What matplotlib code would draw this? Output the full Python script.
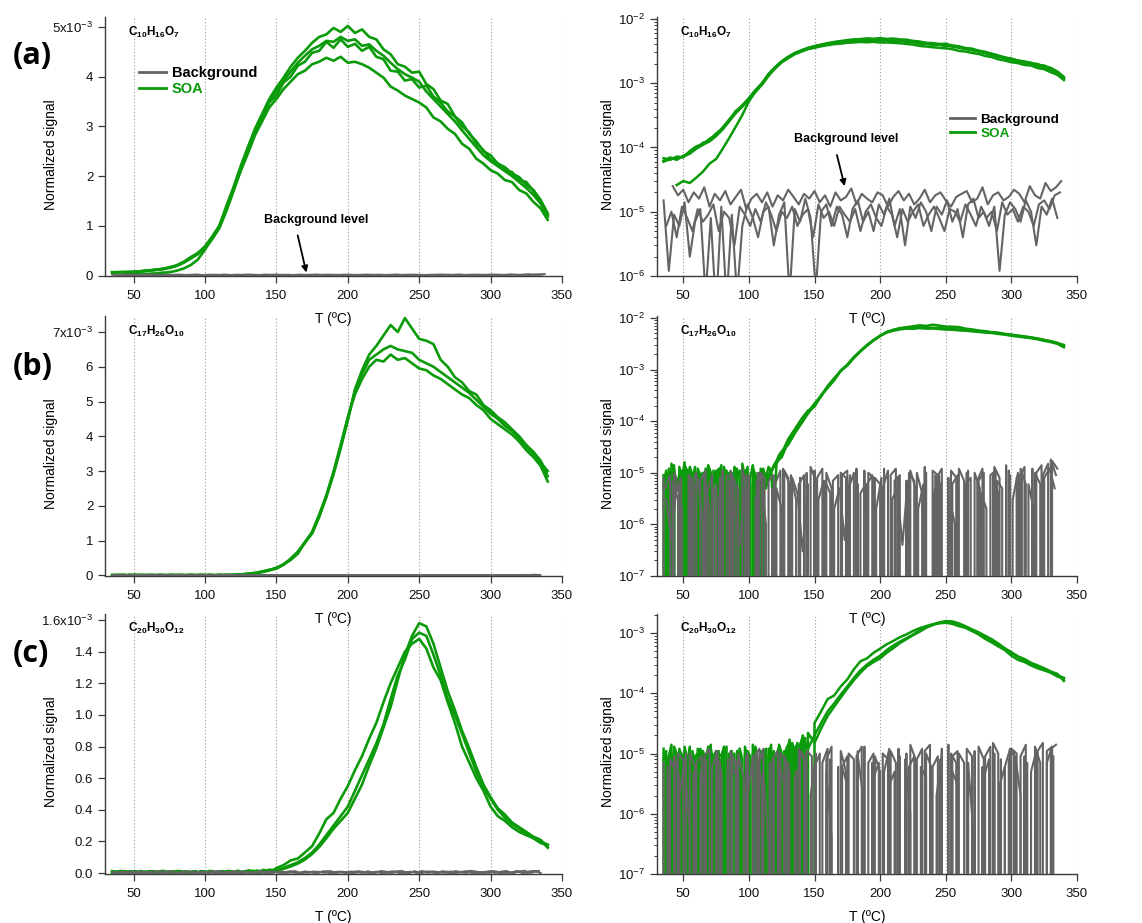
import numpy as np
import matplotlib
matplotlib.use('Agg')
import matplotlib.pyplot as plt
from matplotlib.lines import Line2D
from matplotlib.ticker import FixedLocator, FixedFormatter, LogLocator, NullFormatter

plt.rcParams['font.family'] = ['Liberation Sans', 'DejaVu Sans']
plt.rcParams['mathtext.fontset'] = 'custom'
plt.rcParams['mathtext.rm'] = 'Liberation Sans'
plt.rcParams['mathtext.bf'] = 'Liberation Sans:bold'
plt.rcParams['mathtext.it'] = 'Liberation Sans:italic'

UNIT = 1e-6   # every signal list below is in units of 1e-6
nan = np.nan

# ---------------- row (a): C10H16O7 ----------------
a_start, a_step = 35, 5
soa_a1 = [62, 70, 64, 74, 83, 98, 118, 128, 165, 196,
          272, 352, 455, 575, 770, 1000, 1360, 1740, 2160, 2500,
          2900, 3150, 3480, 3620, 3880, 4000, 4220, 4300, 4480, 4520,
          4700, 4580, 4750, 4600, 4660, 4520, 4600, 4400, 4350, 4120,
          4100, 3920, 3950, 3780, 3820, 3600, 3480, 3300, 3200, 3000,
          2880, 2650, 2520, 2330, 2260, 2120, 2080, 1920, 1880, 1700,
          1480, 1220]
soa_a2 = [68, 64, 72, 70, 88, 104, 112, 136, 158, 205,
          268, 370, 445, 585, 780, 990, 1400, 1780, 2200, 2580,
          2950, 3250, 3550, 3780, 3980, 4200, 4380, 4520, 4680, 4800,
          4850, 4980, 4900, 5020, 4880, 4950, 4800, 4750, 4550, 4450,
          4250, 4200, 4080, 4100, 3850, 3750, 3520, 3450, 3200, 3080,
          2850, 2700, 2500, 2420, 2250, 2180, 2050, 1980, 1820, 1720,
          1520, 1250]
soa_a3 = [60, 66, 68, 72, 80, 96, 110, 124, 150, 190,
          255, 340, 430, 550, 730, 950, 1300, 1700, 2100, 2450,
          2820, 3100, 3380, 3550, 3750, 3900, 4050, 4120, 4250, 4300,
          4380, 4320, 4400, 4280, 4300, 4250, 4180, 4080, 3980, 3800,
          3720, 3620, 3550, 3480, 3380, 3180, 3100, 2950, 2850, 2650,
          2550, 2350, 2250, 2120, 2050, 1920, 1880, 1720, 1650, 1480,
          1350, 1120]
soa_a4 = [nan, nan, 26, 30, 28, 34, 42, 56, 66, 95,
          140, 210, 320, 520, 740, 960, 1320, 1720, 2140, 2550,
          2920, 3220, 3500, 3720, 3920, 4100, 4280, 4420, 4550, 4620,
          4720, 4700, 4800, 4720, 4750, 4620, 4650, 4520, 4420, 4280,
          4150, 4050, 3980, 3900, 3700, 3550, 3400, 3250, 3100, 2920,
          2750, 2580, 2420, 2300, 2200, 2100, 2000, 1880, 1760, 1620,
          1450, 1180]

bg_step = 4
bg_a1_start = 35
bg_a1 = [15, 1.2, 9, 6, 14, 2, 7, 11, 0.5, 8, 0.3, 12, 0.4, 9, 0.5, 6, 13, 8, 4, 10,
         12, 3, 9, 14, 0.5, 11, 7, 16, 8, 0.6, 10, 13, 6, 12, 9, 4, 11, 15, 7, 10,
         5, 13, 9, 16, 6, 11, 3, 12, 8, 14, 10, 5, 12, 9, 15, 7, 11, 4, 13, 16,
         8, 10, 6, 12, 1.2, 9, 14, 11, 7, 15, 10, 3, 12, 9, 16, 8]
bg_a2_start = 42
bg_a2 = [25, 18, 22, 14, 20, 16, 24, 12, 19, 15, 21, 13, 17, 22, 11, 16, 19, 14, 20, 12,
         18, 15, 22, 17, 13, 19, 16, 21, 14, 18, 12, 20, 15, 17, 23, 13, 19, 16, 14, 20,
         18, 12, 17, 21, 15, 19, 13, 16, 22, 14, 18, 20, 15, 12, 17, 19, 21, 14, 16, 24,
         13, 18, 20, 15, 17, 22, 19, 14, 25, 18, 16, 28, 21, 24, 30]
bg_a3_start = 37
bg_a3 = [6, 10, 4, 12, 8, 5, 11, 7, 9, 13, 5, 10, 8, 3, 12, 9, 6, 11, 7, 14,
         9, 5, 10, 8, 12, 6, 9, 11, 4, 13, 8, 10, 6, 12, 9, 7, 11, 5, 10, 13,
         8, 6, 12, 9, 4, 11, 7, 10, 13, 6, 9, 12, 8, 5, 11, 10, 7, 13, 9, 6,
         12, 8, 10, 5, 14, 9, 11, 7, 12, 10, 6, 13, 15, 11, 18, 20]

# ---------------- row (b): C17H26O10 ----------------
b_low_start, b_low_step = 35, 2
b_high_start, b_high_step = 130, 5
soa_b1_low = [9, 0, 12, 7, 14, 0, 8, 11, 0, 6, 13, 9, 0, 10, 7, 0, 12, 8, 0, 11,
              6, 9, 0, 13, 8, 0, 10, 7, 12, 0, 9, 11, 0, 8, 14, 6, 0, 10, 12, 7,
              9, 11, 13, 15, 18, 20]
soa_b1_high = [40, 65, 100, 150, 220, 310, 480, 680, 950, 1250,
               1750, 2300, 2950, 3700, 4500, 5300, 5800, 6200, 6350, 6500,
               6600, 6500, 6450, 6400, 6200, 6100, 6000, 5850, 5700, 5550,
               5400, 5250, 5050, 4850, 4650, 4500, 4300, 4150, 3950, 3700,
               3500, 3250, 3000]
soa_b2_low = [6, 11, 0, 15, 9, 0, 13, 7, 16, 0, 10, 8, 0, 12, 9, 0, 7, 14, 10, 0,
              8, 12, 0, 9, 11, 7, 0, 13, 10, 0, 15, 8, 11, 0, 12, 9, 6, 0, 11, 8,
              13, 10, 14, 17, 22, 26]
soa_b2_high = [35, 58, 90, 140, 200, 300, 460, 650, 930, 1220,
               1700, 2250, 2900, 3650, 4450, 5350, 5900, 6350, 6600, 6900,
               7200, 7000, 7400, 7100, 6800, 6750, 6650, 6200, 6000, 5700,
               5550, 5300, 5200, 4900, 4750, 4550, 4400, 4200, 4000, 3750,
               3550, 3300, 2850]
soa_b3_low = [0, 8, 10, 0, 12, 6, 9, 0, 14, 11, 0, 7, 13, 0, 9, 10, 0, 12, 6, 0,
              11, 9, 14, 0, 7, 10, 0, 12, 8, 11, 0, 9, 13, 0, 6, 10, 0, 12, 9, 5,
              8, 12, 1, 16, 19, 24]
soa_b3_high = [45, 70, 110, 160, 190, 320, 440, 620, 960, 1200,
               1680, 2280, 2980, 3750, 4550, 5200, 5650, 6000, 6200, 6150,
               6350, 6200, 6250, 6100, 5950, 5900, 5750, 5650, 5500, 5350,
               5200, 5100, 4900, 4750, 4500, 4350, 4200, 4050, 3850, 3600,
               3400, 3150, 2700]

bg_b1_start = 35
bg_b1 = [8, 0, 10, 5, 0, 9, 0, 7, 11, 0, 6, 0, 9, 8, 0, 12, 4, 0, 10, 0,
         7, 9, 0, 11, 6, 0, 8, 0, 13, 7, 0, 10, 5, 0, 9, 11, 0, 6, 0, 10,
         8, 0, 12, 0, 7, 9, 0, 11, 5, 0, 10, 0, 8, 12, 0, 6, 9, 0, 11, 0,
         7, 10, 0, 13, 8, 0, 9, 0, 12, 6, 0, 10, 14, 0, 17, 12]
bg_b2_start = 36
bg_b2 = [5, 9, 0, 8, 0, 6, 10, 0, 4, 9, 0, 11, 0, 7, 5, 0, 9, 0, 10, 8,
         0, 6, 11, 0, 9, 3, 0, 10, 0, 8, 12, 0, 7, 9, 0, 5, 10, 0, 11, 0,
         8, 6, 0, 9, 12, 0, 7, 0, 10, 4, 0, 11, 9, 0, 8, 0, 12, 7, 0, 10,
         5, 0, 9, 11, 0, 14, 0, 8, 10, 0, 12, 0, 9, 15, 0]
bg_b3_start = 38
bg_b3 = [0, 7, 3, 0, 9, 6, 0, 10, 2, 0, 8, 0, 11, 6, 0, 9, 0, 7, 10, 0,
         5, 0, 12, 8, 0, 6, 9, 0, 11, 0, 7, 4, 0, 10, 8, 0, 12, 0, 6, 9,
         0, 5, 11, 0, 8, 0, 10, 7, 0, 13, 0, 9, 6, 0, 11, 8, 0, 10, 0, 7,
         12, 0, 9, 4, 0, 11, 0, 8, 13, 0, 10, 6, 0, 18, 9]
bg_b4_start = 37
bg_b4 = [3, 0.5, 6, 2, 0, 4, 8, 1, 0, 5, 3, 0, 7, 2, 0.4, 6, 0, 3, 9, 1,
         0, 5, 2, 0, 8, 4, 0.3, 6, 0, 3, 7, 0, 2, 5, 0.5, 9, 0, 4, 6, 0,
         2, 8, 0, 3, 5, 0.4, 7, 0, 2, 6, 0, 4, 9, 0, 3, 1, 0, 6, 8, 0,
         4, 2, 0, 7, 5, 0, 3, 10, 0, 6, 2, 0, 8, 12, 5]

# ---------------- row (c): C20H30O12 ----------------
c_low_start, c_low_step = 35, 2
c_high_start, c_high_step = 150, 5
soa_c1_low = [12, 0, 9, 14, 0, 10, 7, 0, 13, 8, 0, 11, 6, 0, 12, 9, 0, 10, 14, 0,
              8, 11, 0, 9, 13, 0, 7, 10, 0, 12, 8, 0, 11, 9, 0, 13, 6, 0, 10, 12,
              0, 9, 11, 0, 14, 10, 0, 12, 16, 0, 11, 15, 0, 13, 18, 0]
soa_c1_high = [32, 50, 80, 92, 130, 170, 250, 340, 380, 470,
               550, 650, 740, 850, 950, 1080, 1200, 1300, 1400, 1450,
               1480, 1420, 1300, 1220, 1080, 950, 800, 700, 600, 520,
               420, 360, 330, 290, 260, 240, 220, 190, 175]
soa_c2_low = [8, 11, 0, 10, 6, 0, 12, 9, 0, 7, 13, 0, 9, 10, 0, 11, 8, 0, 12, 7,
              0, 10, 9, 13, 0, 8, 11, 0, 6, 12, 0, 10, 9, 0, 14, 7, 0, 11, 8, 0,
              12, 10, 0, 9, 13, 0, 11, 8, 17, 0, 12, 14, 0, 20, 15, 12]
soa_c2_high = [20, 32, 50, 68, 95, 130, 180, 240, 300, 360,
               420, 520, 620, 720, 820, 940, 1100, 1250, 1350, 1480,
               1520, 1500, 1380, 1250, 1100, 1000, 880, 760, 640, 540,
               470, 400, 350, 310, 280, 250, 220, 200, 180]
soa_c3_low = [0, 9, 7, 0, 13, 10, 0, 8, 11, 0, 9, 6, 0, 12, 10, 0, 7, 13, 0, 9,
              11, 0, 8, 12, 0, 10, 6, 0, 11, 9, 0, 13, 8, 0, 10, 12, 0, 7, 11, 0,
              9, 14, 0, 10, 12, 0, 8, 13, 0, 15, 11, 0, 14, 19, 0, 22]
soa_c3_high = [15, 26, 42, 60, 85, 120, 165, 220, 280, 330,
               380, 470, 560, 680, 790, 920, 1050, 1220, 1380, 1500,
               1580, 1560, 1450, 1300, 1150, 1030, 900, 790, 670, 560,
               480, 410, 370, 320, 290, 260, 230, 210, 160]

bg_c1_start = 35
bg_c1 = [7, 0, 9, 4, 0, 10, 6, 0, 8, 0, 11, 5, 0, 9, 7, 0, 10, 0, 6, 12,
         0, 8, 0, 9, 5, 0, 11, 7, 0, 10, 0, 8, 13, 0, 6, 9, 0, 11, 0, 7,
         10, 0, 5, 12, 0, 9, 0, 14, 8, 0, 10, 6, 0, 12, 0, 9, 11, 0, 7, 0,
         13, 8, 0, 10, 0, 6, 12, 0, 9, 14, 0, 8, 0, 11, 13, 0]
bg_c2_start = 36
bg_c2 = [0, 8, 5, 0, 10, 0, 7, 9, 0, 6, 11, 0, 8, 0, 10, 4, 0, 9, 12, 0,
         7, 0, 10, 8, 0, 5, 0, 11, 9, 0, 7, 12, 0, 6, 0, 10, 8, 0, 13, 0,
         9, 5, 0, 11, 7, 0, 10, 0, 8, 12, 0, 6, 9, 0, 14, 0, 10, 7, 0, 11,
         0, 9, 13, 0, 8, 0, 12, 10, 0, 7, 0, 11, 15, 0, 9]
bg_c3_start = 38
bg_c3 = [6, 0, 10, 8, 0, 5, 0, 9, 12, 0, 7, 0, 11, 6, 0, 9, 0, 10, 3, 0,
         8, 11, 0, 7, 0, 12, 9, 0, 6, 10, 0, 8, 0, 11, 5, 0, 9, 13, 0, 7,
         0, 10, 8, 0, 12, 0, 6, 9, 0, 11, 14, 0, 8, 0, 10, 7, 0, 12, 9, 0,
         6, 0, 15, 10, 0, 8, 11, 0, 9, 0, 13, 7, 0, 12, 14]
bg_c4_start = 39
bg_c4 = [4, 0, 2, 7, 0.5, 0, 5, 3, 0, 8, 1, 0, 6, 4, 0, 2, 9, 0, 5, 0.3,
         0, 7, 3, 0, 4, 6, 0, 2, 8, 0, 5, 0.4, 0, 6, 3, 0, 9, 2, 0, 4,
         7, 0, 3, 5, 0, 8, 1, 0, 6, 4, 0, 2, 10, 0, 5, 3, 0, 7, 0.5, 0,
         4, 8, 0, 3, 6, 0, 9, 2, 0, 5, 11, 0, 7, 13, 0]

formulas = [r'$\mathbf{C_{10}H_{16}O_{7}}$',
            r'$\mathbf{C_{17}H_{26}O_{10}}$',
            r'$\mathbf{C_{20}H_{30}O_{12}}$']
panel_letters = ['(a)', '(b)', '(c)']
x_ticks = [50, 100, 150, 200, 250, 300, 350]
lin_ticks = [[0, 1, 2, 3, 4, 5], [0, 1, 2, 3, 4, 5, 6, 7],
             [0.0, 0.2, 0.4, 0.6, 0.8, 1.0, 1.2, 1.4, 1.6]]
lin_labels = [['0', '1', '2', '3', '4', '5x10$^{-3}$'],
              ['0', '1', '2', '3', '4', '5', '6', '7x10$^{-3}$'],
              ['0.0', '0.2', '0.4', '0.6', '0.8', '1.0', '1.2', '1.4', '1.6x10$^{-3}$']]


def series(start, step, vals):
    v = np.asarray(vals, dtype=float)
    return start + step * np.arange(len(v)), v * UNIT


def two_part(s_lo, st_lo, lo, s_hi, st_hi, hi):
    t1, y1 = series(s_lo, st_lo, lo)
    t2, y2 = series(s_hi, st_hi, hi)
    return np.concatenate([t1, t2]), np.concatenate([y1, y2])


soa_rows = [
    [series(a_start, a_step, r) for r in (soa_a1, soa_a2, soa_a3, soa_a4)],
    [two_part(b_low_start, b_low_step, lo, b_high_start, b_high_step, hi)
     for lo, hi in ((soa_b1_low, soa_b1_high), (soa_b2_low, soa_b2_high), (soa_b3_low, soa_b3_high))],
    [two_part(c_low_start, c_low_step, lo, c_high_start, c_high_step, hi)
     for lo, hi in ((soa_c1_low, soa_c1_high), (soa_c2_low, soa_c2_high), (soa_c3_low, soa_c3_high))],
]
bg_rows = [
    [series(bg_a1_start, bg_step, bg_a1), series(bg_a2_start, bg_step, bg_a2),
     series(bg_a3_start, bg_step, bg_a3)],
    [series(bg_b1_start, bg_step, bg_b1), series(bg_b2_start, bg_step, bg_b2),
     series(bg_b3_start, bg_step, bg_b3), series(bg_b4_start, bg_step, bg_b4)],
    [series(bg_c1_start, bg_step, bg_c1), series(bg_c2_start, bg_step, bg_c2),
     series(bg_c3_start, bg_step, bg_c3), series(bg_c4_start, bg_step, bg_c4)],
]

# ---------------- styling / layout ----------------
GREEN = '#0a9a0a'
GRAY = '#646464'
SPINE = '#3a3a3a'
W, H = 1142, 923

fig = plt.figure(figsize=(W / 100, H / 100), dpi=100)

row_px = [(17, 276), (316, 576), (614, 874)]
lin_ylim = [(-0.01e-3, 5.2e-3), (-0.02e-3, 7.46e-3), (-0.006e-3, 1.638e-3)]
log_ylim = [(1e-6, 1.07e-2), (1e-7, 1.09e-2), (1e-7, 2.07e-3)]
letter_y = [56, 367, 654]


def style(ax):
    ax.patch.set_visible(False)
    for s in ('top', 'right'):
        ax.spines[s].set_visible(False)
    for s in ('left', 'bottom'):
        ax.spines[s].set_color(SPINE)
        ax.spines[s].set_linewidth(1.0)
    ax.set_xlim(30, 350)
    ax.xaxis.set_major_locator(FixedLocator(x_ticks))
    ax.tick_params(axis='both', which='major', direction='out', length=5, width=0.9,
                   color=SPINE, labelsize=9.5, labelcolor='#111111')
    ax.tick_params(axis='x', pad=5)
    ax.tick_params(axis='y', which='minor', direction='out', length=2.5, width=0.7, color=SPINE)
    ax.grid(axis='x', linestyle=(0, (1, 2)), color='#9a9a9a', linewidth=0.8)
    ax.set_axisbelow(True)
    ax.set_xlabel('T (ºC)', fontsize=10, labelpad=7)
    ax.set_ylabel('Normalized signal', fontsize=10)


for r in range(3):
    top, bot = row_px[r]
    b = 1 - bot / H
    h = (bot - top) / H
    ax_l = fig.add_axes([105 / W, b, 457 / W, h])
    ax_r = fig.add_axes([657 / W, b, 420 / W, h])

    # linear panel
    for t, y in soa_rows[r]:
        ax_l.plot(t, y, color=GREEN, lw=1.9, zorder=2)
    for t, y in bg_rows[r]:
        ax_l.plot(t, y, color=GRAY, lw=1.3, zorder=3)
    style(ax_l)
    ax_l.set_ylim(*lin_ylim[r])
    ax_l.yaxis.set_major_locator(FixedLocator([v * 1e-3 for v in lin_ticks[r]]))
    ax_l.yaxis.set_major_formatter(FixedFormatter(lin_labels[r]))
    ax_l.yaxis.set_label_coords(-0.103, 0.47)
    ax_l.text(0.05, 0.94 if r < 2 else 0.945, formulas[r], transform=ax_l.transAxes,
              fontsize=8.5, ha='left', va='center')

    # log panel
    ax_r.set_yscale('log', nonpositive='clip')
    for t, y in soa_rows[r]:
        ax_r.plot(t, y, color=GREEN, lw=1.8, zorder=2)
    for t, y in bg_rows[r]:
        ax_r.plot(t, y, color=GRAY, lw=1.5, zorder=3)
    style(ax_r)
    ax_r.set_ylim(*log_ylim[r])
    ax_r.yaxis.set_major_locator(LogLocator(base=10, numticks=20))
    ax_r.yaxis.set_minor_locator(LogLocator(base=10, subs=np.arange(2, 10), numticks=20))
    ax_r.yaxis.set_minor_formatter(NullFormatter())
    ax_r.yaxis.set_label_coords(-0.1, 0.47)
    ax_r.text(0.055, 0.94 if r < 2 else 0.945, formulas[r], transform=ax_r.transAxes,
              fontsize=8.5, ha='left', va='center')

    fig.text(13 / W, 1 - letter_y[r] / H, panel_letters[r], fontsize=22, fontweight='bold',
             family=['Open Sans', 'DejaVu Sans'], ha='left', va='center')

    if r == 0:
        handles = [Line2D([], [], color=GRAY, lw=2), Line2D([], [], color=GREEN, lw=2)]
        for ax, anchor, fs in ((ax_l, (0.052, 0.85), 10.5), (ax_r, (0.675, 0.665), 9.7)):
            leg = ax.legend(handles, ['Background', 'SOA'], loc='upper left',
                            bbox_to_anchor=anchor, frameon=False,
                            prop={'weight': 'bold', 'size': fs},
                            handlelength=1.85, handletextpad=0.4, labelspacing=0.15,
                            borderpad=0.2)
            leg.get_texts()[1].set_color(GREEN)
        ax_l.annotate('Background level', xy=(171, 0.06e-3), xytext=(178, 1.12e-3),
                      ha='center', va='center', fontsize=9, fontweight='bold',
                      arrowprops=dict(arrowstyle='-|>', color='black', lw=1.3,
                                      relpos=(0.3, 0.0), shrinkA=5, shrinkB=0,
                                      mutation_scale=9))
        ax_r.annotate('Background level', xy=(173, 2.5e-5), xytext=(174, 1.33e-4),
                      ha='center', va='center', fontsize=9, fontweight='bold',
                      arrowprops=dict(arrowstyle='-|>', color='black', lw=1.3,
                                      relpos=(0.39, 0.0), shrinkA=5, shrinkB=0,
                                      mutation_scale=9))

fig.savefig('out.png', dpi=100)
